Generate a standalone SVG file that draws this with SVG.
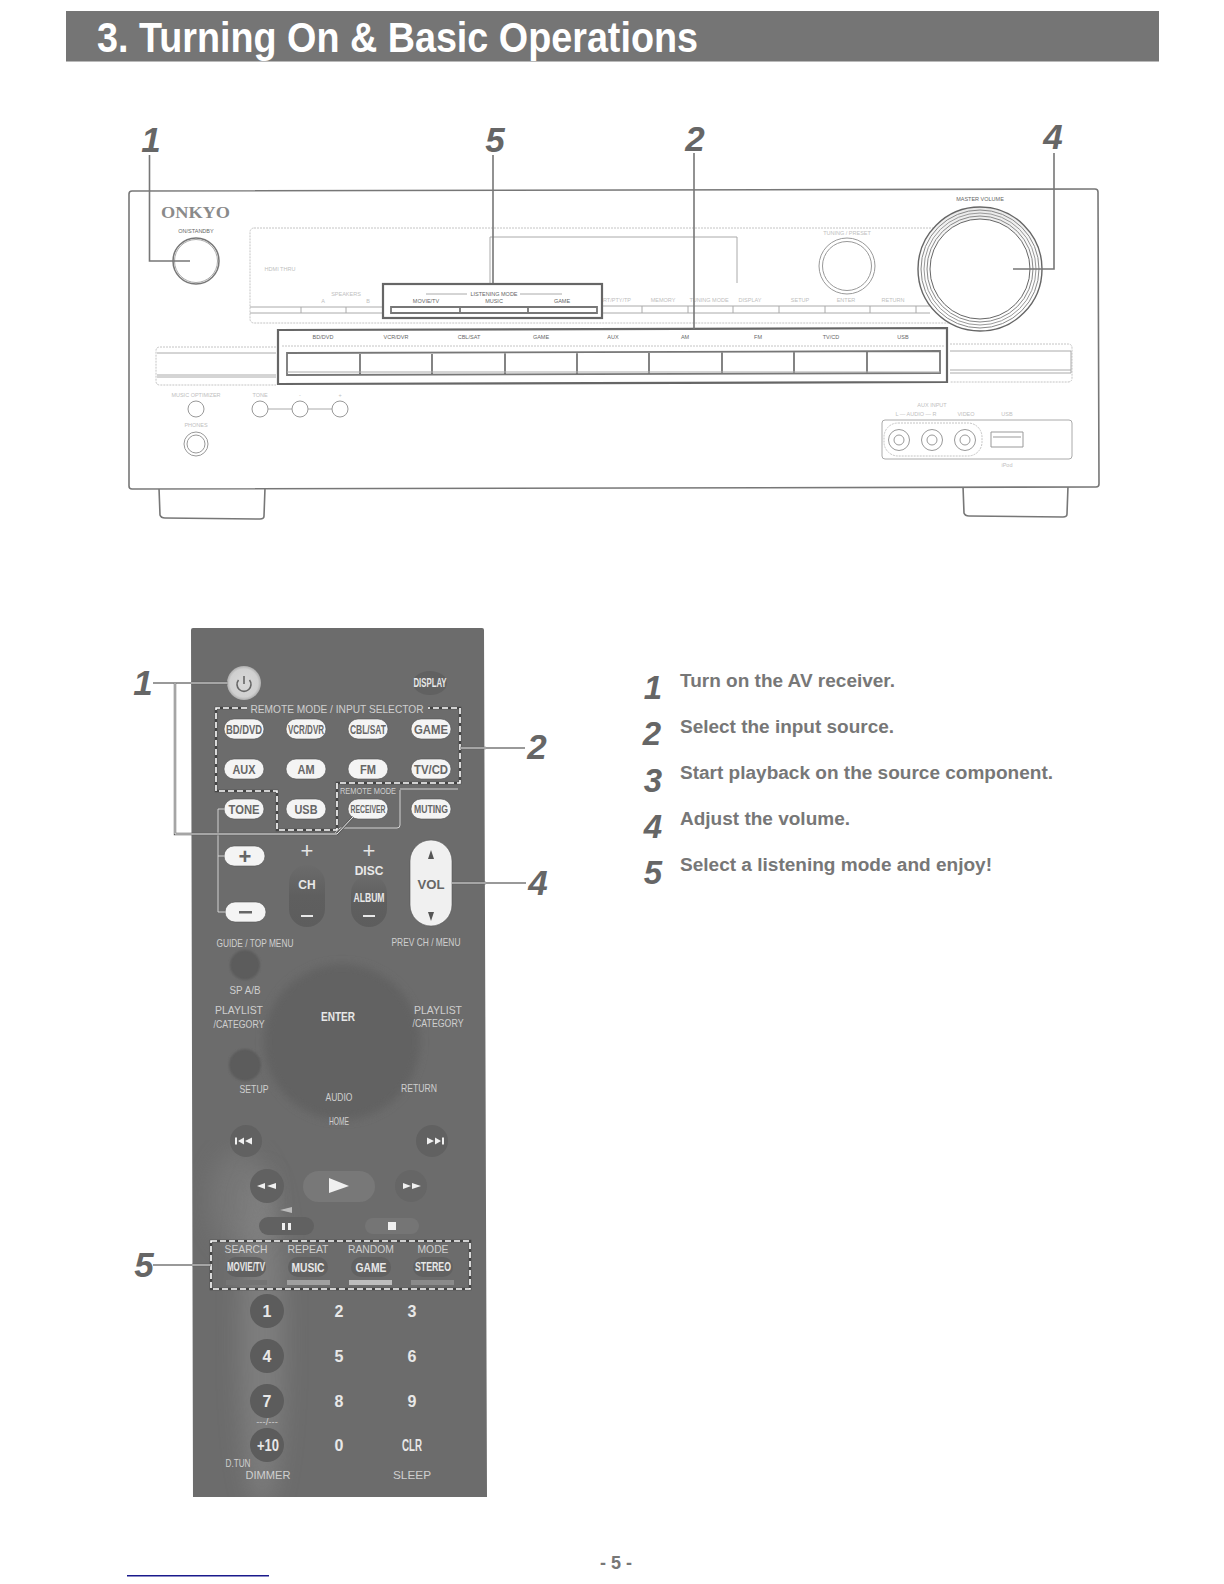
<svg xmlns="http://www.w3.org/2000/svg" width="1224" height="1584" viewBox="0 0 1224 1584">
<style>
text{font-family:"Liberation Sans",Arial,sans-serif}
.serif{font-family:"Liberation Serif","Times New Roman",serif;font-weight:bold;font-size:16px;fill:#8a8a8a;text-anchor:middle}
.title{font-size:42px;font-weight:bold;fill:#fff}
.num{font-weight:bold;font-style:italic;font-size:35px;fill:#666;text-anchor:middle}
.step{font-weight:bold;font-size:18px;fill:#777}
.stepn{font-weight:bold;font-style:italic;font-size:33px;fill:#666;text-anchor:middle}
.ln{fill:none;stroke:#777;stroke-width:1.6}
.body{fill:#fff;stroke:#777;stroke-width:1.6}
.hl{fill:none;stroke:#666;stroke-width:2.2}
.hi{fill:none;stroke:#777;stroke-width:1.8}
.faint{fill:none;stroke:#c4c4c4;stroke-width:1;stroke-dasharray:2 1}
.thin{fill:none;stroke:#aaa;stroke-width:1}
.knob{fill:#fff;stroke:#999;stroke-width:1}
.t5{font-size:5.5px;fill:#666;text-anchor:middle}
.t5f{font-size:5.5px;fill:#c0c0c0;text-anchor:middle}
.pill{fill:#f4f4f4;stroke:#555;stroke-width:.6}
.pt{font-weight:bold;font-size:13px;fill:#666;text-anchor:middle}
.ptn{font-weight:bold;font-size:11px;fill:#666;text-anchor:middle}
.rt{font-size:11.5px;fill:#cfcfcf;text-anchor:middle}
.rs{font-size:9.5px;fill:#cfcfcf;text-anchor:middle}
.rb{font-weight:bold;font-size:12px;fill:#e8e8e8;text-anchor:middle}
.k{font-weight:bold;font-size:16px;fill:#e8e8e8;text-anchor:middle}
.plus{font-size:22px;fill:#e4e4e4;text-anchor:middle}
.plusd{font-weight:bold;font-size:22px;fill:#666;text-anchor:middle}
.dk{fill:#616161}
.dk2{fill:#5c5c5c}
.dash{fill:none;stroke:#fff;stroke-width:1.6;stroke-dasharray:6 3}
.dashu{fill:none;stroke:#444;stroke-width:2.6}
.lo{fill:none;stroke:#777;stroke-width:1.3}
.lu{fill:none;stroke:#5a5a5a;stroke-width:2.4}
.lw{fill:none;stroke:#f0f0f0;stroke-width:1}
.br{fill:none;stroke:#ddd;stroke-width:.9}
.ico{fill:#f0f0f0}
.ico2{fill:#555}
</style>
<defs>
<filter id="soft" x="-20%" y="-20%" width="140%" height="140%"><feGaussianBlur stdDeviation="4"/></filter>
<filter id="glow" x="-100%" y="-10%" width="300%" height="120%"><feGaussianBlur stdDeviation="12"/></filter>
<filter id="b1" x="-20%" y="-20%" width="140%" height="140%"><feGaussianBlur stdDeviation="1"/></filter>
<radialGradient id="pw" cx=".5" cy=".5" r=".55"><stop offset="0" stop-color="#d8d8d8"/><stop offset=".75" stop-color="#d0d0d0"/><stop offset="1" stop-color="#9a9a9a"/></radialGradient>
<linearGradient id="vol" x1="0" y1="0" x2="0" y2="1"><stop offset="0" stop-color="#e8e8e8"/><stop offset=".3" stop-color="#fafafa"/><stop offset="1" stop-color="#fff"/></linearGradient>
<linearGradient id="cfade" x1="0" y1="0" x2="0" y2="1"><stop offset="0" stop-color="#6b6b6b"/><stop offset=".5" stop-color="#5f5f5f"/><stop offset="1" stop-color="#5d5d5d"/></linearGradient>
<clipPath id="rc"><path d="M191 630Q191 628 193 628L482 628Q484 628 484 630L487 1497L193 1497Z"/></clipPath>
</defs>
<rect width="1224" height="1584" fill="#fff"/>

<g id="header">
<rect x="66" y="11" width="1093" height="50.500" fill="#757575"/>
<text class="title" x="97" y="52" textLength="601" lengthAdjust="spacingAndGlyphs">3. Turning On &amp; Basic Operations</text>
</g>

<g id="receiver">
<path class="body" d="M159 488L160 515Q161 518 165 518L260 519Q264 519 264 516L265 488Z"/>
<path class="body" d="M963 486L964 513Q965 516 969 516L1063 517Q1067 517 1067 514L1068 486Z"/>
<path class="body" d="M132 191L1095 189Q1098 189 1098 192L1099 484Q1099 487 1096 487L132 489Q129 489 129 486L129 194Q129 191 132 191Z"/>
<text class="serif" x="195.500" y="218" textLength="69" lengthAdjust="spacingAndGlyphs">ONKYO</text>
<text class="t5" x="196" y="233">ON/STANDBY</text>
<circle cx="196" cy="261" r="23" fill="#fff" stroke="#777" stroke-width="1.5"/>
<circle cx="196" cy="261" r="21.500" fill="none" stroke="#aaa"/>
<rect class="faint" x="250" y="228" width="750" height="95" rx="4"/>
<path d="M490 283V237H737V283" fill="none" stroke="#aaa" stroke-width="1"/>
<text class="t5f" x="280" y="271">HDMI THRU</text>
<text class="t5f" x="346" y="296">SPEAKERS</text>
<text class="t5f" x="323" y="303">A</text>
<text class="t5f" x="368" y="303">B</text>
<path class="thin" d="M250 307H383M602 306H940M250 313H383M602 313H930M301 307V313M346 307V313M642 306V313M688 306V313M733 306V313M779 306V313M825 306V313M870 306V313M916 306V313"/>
<text class="t5f" x="617" y="302">RT/PTY/TP</text>
<text class="t5f" x="663" y="302">MEMORY</text>
<text class="t5f" x="709" y="302">TUNING MODE</text>
<text class="t5f" x="750" y="302">DISPLAY</text>
<text class="t5f" x="800" y="302">SETUP</text>
<text class="t5f" x="846" y="302">ENTER</text>
<text class="t5f" x="893" y="302">RETURN</text>
<text class="t5f" x="847" y="235">TUNING / PRESET</text>
<circle cx="847" cy="266" r="28" class="knob"/>
<circle cx="847" cy="266" r="24.500" class="knob"/>
<path class="faint" d="M276 347H160Q156 347 156 351V381Q156 385 160 385H276"/>
<path class="thin" d="M157 353H276M157 375H276M157 377H276"/>
<path class="faint" d="M950 344H1068Q1072 344 1072 348V378Q1072 382 1068 382H950"/>
<path class="thin" d="M950 351H1071V373H950M950 370H1071"/>
<text class="t5f" x="196" y="397">MUSIC OPTIMIZER</text>
<text class="t5f" x="260" y="397">TONE</text>
<text class="t5f" x="300" y="397">-</text>
<text class="t5f" x="340" y="397">+</text>
<path class="thin" d="M268 409H292M308 409H332"/>
<circle cx="196" cy="409" r="8" class="knob"/>
<circle cx="260" cy="409" r="8" class="knob"/>
<circle cx="300" cy="409" r="8" class="knob"/>
<circle cx="340" cy="409" r="8" class="knob"/>
<text class="t5f" x="196" y="427">PHONES</text>
<circle cx="196" cy="444" r="12" class="knob"/>
<circle cx="196" cy="444" r="9" class="knob"/>
</g>

<g id="master-volume">
<text class="t5" x="980" y="201">MASTER VOLUME</text>
<circle cx="980" cy="269" r="62" fill="url(#vol)" stroke="#666" stroke-width="1.4"/>
<circle cx="980" cy="269" r="59" fill="none" stroke="#888"/>
<circle cx="980" cy="269" r="56" fill="none" stroke="#999"/>
<circle cx="980" cy="269" r="53" fill="none" stroke="#888"/>
<circle cx="980" cy="269" r="50" fill="#fff" stroke="#666"/>
</g>

<g id="listening-mode-panel">
<rect class="hl" x="383" y="284" width="219" height="34"/>
<path class="thin" d="M426 294H467M520 294H562"/>
<text class="t5" x="494" y="296">LISTENING MODE</text>
<text class="t5" x="426" y="303">MOVIE/TV</text>
<text class="t5" x="494" y="303">MUSIC</text>
<text class="t5" x="562" y="303">GAME</text>
<path class="hi" d="M391 307H597V313H391ZM460 307V313M528 307V313"/>
</g>

<g id="input-selector-panel">
<path class="hl" d="M278 330L947 328V382L278 384Z"/>
<path class="faint" d="M282 346H944"/>
<text class="t5" x="323" y="339">BD/DVD</text>
<text class="t5" x="396" y="339">VCR/DVR</text>
<text class="t5" x="469" y="339">CBL/SAT</text>
<text class="t5" x="541" y="339">GAME</text>
<text class="t5" x="613" y="339">AUX</text>
<text class="t5" x="685" y="339">AM</text>
<text class="t5" x="758" y="339">FM</text>
<text class="t5" x="831" y="339">TV/CD</text>
<text class="t5" x="903" y="339">USB</text>
<path class="hi" d="M287 353L940 351V373L287 375ZM360 353V375M432 353V375M505 353V375M577 353V375M649 352V374M722 352V374M794 352V374M867 352V374"/>
<path class="thin" d="M287 372H940"/>
</g>

<g id="aux-panel">
<text class="t5f" x="932" y="407">AUX INPUT</text>
<text class="t5f" x="916" y="416">L — AUDIO — R</text>
<text class="t5f" x="966" y="416">VIDEO</text>
<text class="t5f" x="1007" y="416">USB</text>
<text class="t5f" x="1007" y="467">iPod</text>
<path class="thin" d="M885 420H1069Q1072 420 1072 423V456Q1072 459 1069 459H885Q882 459 882 456V423Q882 420 885 420Z"/>
<rect class="faint" x="884" y="423" width="98" height="33" rx="14"/>
<circle cx="899" cy="440" r="10.500" class="knob"/><circle cx="899" cy="440" r="5" class="knob"/>
<circle cx="932" cy="440" r="10.500" class="knob"/><circle cx="932" cy="440" r="5" class="knob"/>
<circle cx="965" cy="440" r="10.500" class="knob"/><circle cx="965" cy="440" r="5" class="knob"/>
<path d="M991 432H1023V447H991ZM993 437H1021" fill="none" stroke="#999"/>
</g>

<g id="remote">
<path d="M191 630Q191 628 193 628L482 628Q484 628 484 630L487 1497L193 1497Z" fill="#6c6c6c"/>
<g clip-path="url(#rc)">
<ellipse cx="262" cy="1340" rx="22" ry="170" fill="#9a9a9a" opacity=".4" filter="url(#glow)"/>
<ellipse cx="240" cy="1200" rx="30" ry="50" fill="#8c8c8c" opacity=".35" filter="url(#glow)"/>
<circle cx="342" cy="1042" r="78" fill="#626262" filter="url(#soft)"/>
<circle cx="245" cy="965" r="15" class="dk2" filter="url(#b1)"/>
<circle cx="245" cy="1065" r="16" class="dk2" filter="url(#b1)"/>
</g>
</g>

<g id="btn-power"><circle cx="244" cy="683" r="17" fill="url(#pw)"/><path d="M238.500 680A7 7 0 1 0 249.500 680M244 676V684" fill="none" stroke="#666" stroke-width="1.600"/></g>
<g id="btn-display"><ellipse cx="430" cy="683" rx="17" ry="12" class="dk"/><text class="rb" x="430" y="687" textLength="33" lengthAdjust="spacingAndGlyphs">DISPLAY</text></g>
<g id="label-remote-mode"><text class="rt" x="337" y="713" textLength="173" lengthAdjust="spacingAndGlyphs">REMOTE MODE / INPUT SELECTOR</text></g>

<g id="btn-bd"><rect class="pill" x="224" y="719" width="40" height="20" rx="10"/><text class="pt" x="244" y="734" textLength="36" lengthAdjust="spacingAndGlyphs">BD/DVD</text></g>
<g id="btn-vcr"><rect class="pill" x="286" y="719" width="40" height="20" rx="10"/><text class="pt" x="306" y="734" textLength="36" lengthAdjust="spacingAndGlyphs">VCR/DVR</text></g>
<g id="btn-cbl"><rect class="pill" x="348" y="719" width="40" height="20" rx="10"/><text class="pt" x="368" y="734" textLength="36" lengthAdjust="spacingAndGlyphs">CBL/SAT</text></g>
<g id="btn-game"><rect class="pill" x="411" y="719" width="40" height="20" rx="10"/><text class="pt" x="431" y="734" textLength="34" lengthAdjust="spacingAndGlyphs">GAME</text></g>
<g id="btn-aux"><rect class="pill" x="224" y="759" width="40" height="20" rx="10"/><text class="pt" x="244" y="774" textLength="23" lengthAdjust="spacingAndGlyphs">AUX</text></g>
<g id="btn-am"><rect class="pill" x="286" y="759" width="40" height="20" rx="10"/><text class="pt" x="306" y="774" textLength="17" lengthAdjust="spacingAndGlyphs">AM</text></g>
<g id="btn-fm"><rect class="pill" x="348" y="759" width="40" height="20" rx="10"/><text class="pt" x="368" y="774" textLength="16" lengthAdjust="spacingAndGlyphs">FM</text></g>
<g id="btn-tvcd"><rect class="pill" x="411" y="759" width="40" height="20" rx="10"/><text class="pt" x="431" y="774" textLength="34" lengthAdjust="spacingAndGlyphs">TV/CD</text></g>
<g id="btn-tone"><rect class="pill" x="224" y="799" width="40" height="20" rx="10"/><text class="pt" x="244" y="814" textLength="31" lengthAdjust="spacingAndGlyphs">TONE</text></g>
<g id="btn-usb"><rect class="pill" x="286" y="799" width="40" height="20" rx="10"/><text class="pt" x="306" y="814" textLength="23" lengthAdjust="spacingAndGlyphs">USB</text></g>
<g id="btn-receiver"><rect class="pill" x="348" y="799" width="40" height="20" rx="10"/><text class="ptn" x="368" y="813" textLength="35" lengthAdjust="spacingAndGlyphs">RECEIVER</text></g>
<g id="btn-muting"><rect class="pill" x="411" y="799" width="40" height="20" rx="10"/><text class="ptn" x="431" y="813" textLength="34" lengthAdjust="spacingAndGlyphs">MUTING</text></g>
<g id="label-remote-mode-2"><text class="rs" x="368" y="794" textLength="56" lengthAdjust="spacingAndGlyphs">REMOTE MODE</text></g>
<g id="btn-plus"><rect class="pill" x="224" y="846" width="41" height="20" rx="10"/><text class="plusd" x="245" y="864">+</text></g>
<g id="btn-minus"><rect class="pill" x="225" y="902" width="41" height="20" rx="10"/><rect x="239" y="911" width="13" height="2.500" fill="#666"/></g>

<g id="btn-ch"><rect x="289" y="865" width="36" height="62" rx="18" fill="url(#cfade)"/><text class="plus" x="307" y="858">+</text><text class="rb" x="307" y="889">CH</text><rect x="301" y="915" width="12" height="2" fill="#e8e8e8"/></g>
<g id="btn-disc"><rect x="351" y="875" width="36" height="52" rx="18" fill="url(#cfade)"/><text class="plus" x="369" y="858">+</text><text class="rb" x="369" y="875">DISC</text><text class="rb" x="369" y="902" textLength="31" lengthAdjust="spacingAndGlyphs">ALBUM</text><rect x="363" y="915" width="12" height="2" fill="#e8e8e8"/></g>
<g id="btn-vol"><rect x="410" y="840" width="42" height="86" rx="21" fill="#f0f0f0" stroke="#555" stroke-width=".6"/><text class="pt" x="431" y="889" textLength="27" lengthAdjust="spacingAndGlyphs">VOL</text><polygon class="ico2" points="431,850 434,859 428,859"/><polygon class="ico2" points="431,921 434,912 428,912"/></g>
<g id="label-guide"><text class="rt" x="255" y="947" textLength="77" lengthAdjust="spacingAndGlyphs">GUIDE / TOP MENU</text></g>
<g id="label-prev"><text class="rt" x="426" y="946" textLength="69" lengthAdjust="spacingAndGlyphs">PREV CH / MENU</text></g>
<g id="label-spab"><text class="rt" x="245" y="994" textLength="31" lengthAdjust="spacingAndGlyphs">SP A/B</text></g>
<g id="label-playlist-l"><text class="rt" x="239" y="1014" textLength="48" lengthAdjust="spacingAndGlyphs">PLAYLIST</text><text class="rt" x="239" y="1028" textLength="51" lengthAdjust="spacingAndGlyphs">/CATEGORY</text></g>
<g id="btn-enter"><text class="rb" x="338" y="1021" textLength="34" lengthAdjust="spacingAndGlyphs">ENTER</text></g>
<g id="label-playlist-r"><text class="rt" x="438" y="1014" textLength="48" lengthAdjust="spacingAndGlyphs">PLAYLIST</text><text class="rt" x="438" y="1027" textLength="51" lengthAdjust="spacingAndGlyphs">/CATEGORY</text></g>
<g id="label-setup"><text class="rt" x="254" y="1093" textLength="29" lengthAdjust="spacingAndGlyphs">SETUP</text></g>
<g id="label-audio"><text class="rt" x="339" y="1101" textLength="27" lengthAdjust="spacingAndGlyphs">AUDIO</text></g>
<g id="label-return"><text class="rt" x="419" y="1092" textLength="36" lengthAdjust="spacingAndGlyphs">RETURN</text></g>
<g id="label-home"><text class="rt" x="339" y="1125" textLength="20" lengthAdjust="spacingAndGlyphs">HOME</text></g>

<g id="btn-prev"><circle cx="246" cy="1141" r="16" class="dk"/><path class="ico" d="M235 1137.500H237V1144.500H235ZM244 1137.500V1144.500L238 1141ZM252 1137.500V1144.500L245 1141Z"/></g>
<g id="btn-next"><circle cx="432" cy="1141" r="16" class="dk"/><path class="ico" d="M442 1137.500H444V1144.500H442ZM435 1137.500V1144.500L441 1141ZM427 1137.500V1144.500L434 1141Z"/></g>
<g id="btn-rew"><circle cx="267" cy="1186" r="17" class="dk"/><path class="ico" d="M265 1183V1189L257 1186ZM276 1183V1189L267 1186Z"/></g>
<g id="btn-play"><rect x="303" y="1171" width="72" height="31" rx="15.500" fill="#787878"/><polygon class="ico" points="329,1178 349,1186 329,1193"/></g>
<g id="btn-ff"><circle cx="411" cy="1186" r="16" fill="#666"/><path class="ico" d="M403 1183V1189L411 1186ZM412 1183V1189L421 1186Z"/></g>
<g id="btn-pause"><polygon points="280,1210 292,1207 292,1213" fill="#bbb"/><rect x="259" y="1217" width="55" height="18" rx="9" class="dk"/><path class="ico" d="M282 1223H285V1230H282ZM288 1223H291V1230H288Z"/></g>
<g id="btn-stop"><rect x="365" y="1218" width="54" height="16" rx="8" fill="#757575"/><rect x="388" y="1222" width="8" height="8" class="ico"/></g>

<g id="labels-search"><text class="rt" x="246" y="1253" textLength="43" lengthAdjust="spacingAndGlyphs">SEARCH</text><text class="rt" x="308" y="1253" textLength="41" lengthAdjust="spacingAndGlyphs">REPEAT</text><text class="rt" x="371" y="1253" textLength="46" lengthAdjust="spacingAndGlyphs">RANDOM</text><text class="rt" x="433" y="1253" textLength="31" lengthAdjust="spacingAndGlyphs">MODE</text></g>
<g id="btn-movie"><rect x="226" y="1257" width="40" height="20" rx="10" class="dk"/><text class="rb" x="246" y="1271" textLength="38" lengthAdjust="spacingAndGlyphs">MOVIE/TV</text></g>
<g id="btn-music"><rect x="288" y="1257" width="40" height="20" rx="10" class="dk"/><text class="rb" x="308" y="1272" textLength="33" lengthAdjust="spacingAndGlyphs">MUSIC</text></g>
<g id="btn-game2"><rect x="351" y="1257" width="40" height="20" rx="10" class="dk"/><text class="rb" x="371" y="1272" textLength="31" lengthAdjust="spacingAndGlyphs">GAME</text></g>
<g id="btn-stereo"><rect x="413" y="1257" width="40" height="20" rx="10" class="dk"/><text class="rb" x="433" y="1271" textLength="36" lengthAdjust="spacingAndGlyphs">STEREO</text></g>
<g id="indicators"><rect x="226" y="1280" width="41" height="5" fill="#747474"/><rect x="287" y="1280" width="43" height="5" fill="#a0a0a0"/><rect x="349" y="1280" width="43" height="5" fill="#bdbdbd"/><rect x="411" y="1280" width="43" height="5" fill="#8a8a8a"/></g>

<g id="keypad">
<circle cx="267" cy="1311" r="17" class="dk2"/><circle cx="267" cy="1356" r="17" class="dk2"/><circle cx="267" cy="1401" r="17" class="dk2"/><circle cx="267" cy="1445" r="17" class="dk2"/>
<text class="k" x="267" y="1317">1</text><text class="k" x="339" y="1317">2</text><text class="k" x="412" y="1317">3</text>
<text class="k" x="267" y="1362">4</text><text class="k" x="339" y="1362">5</text><text class="k" x="412" y="1362">6</text>
<text class="k" x="267" y="1407">7</text><text class="k" x="339" y="1407">8</text><text class="k" x="412" y="1407">9</text>
<text class="rs" x="267" y="1425">---/---</text>
<text class="k" x="268" y="1451" textLength="22" lengthAdjust="spacingAndGlyphs">+10</text><text class="k" x="339" y="1451">0</text><text class="k" x="412" y="1451" textLength="20" lengthAdjust="spacingAndGlyphs">CLR</text>
<text class="rt" x="238" y="1467" textLength="25" lengthAdjust="spacingAndGlyphs">D.TUN</text>
<text class="rt" x="268" y="1479" textLength="45" lengthAdjust="spacingAndGlyphs">DIMMER</text>
<text class="rt" x="412" y="1479" textLength="38" lengthAdjust="spacingAndGlyphs">SLEEP</text>
</g>

<g id="connectors">
<path class="ln" d="M149.500 155V261H190"/>
<path class="ln" d="M493 155V283"/>
<path class="ln" d="M694 153V329"/>
<path class="ln" d="M1054 153V269H1013"/>
<path class="br" d="M224 809H218V912H225M218 856H224"/>
<path class="br" d="M400 790V825Q400 828 397 828H340L334 834M400 789H458"/>
<path class="dashu" d="M247 708H216V791H277V830H337V783H460V708H428"/>
<path class="dash" d="M247 708H216V791H277V830H337V783H460V708H428"/>
<path class="dashu" d="M211 1241H470V1289H211Z"/>
<path class="dash" d="M211 1241H470V1289H211Z"/>
<path class="lo" d="M153 683H191"/><path class="lu" d="M191 683H228M175 683V834H337L353 817"/><path class="lw" d="M191 683H228M175 683V834H337L353 817"/>
<path class="lo" d="M486 748H525"/><path class="lu" d="M460 748H486"/><path class="lw" d="M460 748H486"/>
<path class="lo" d="M486 883H526"/><path class="lu" d="M452 883H486"/><path class="lw" d="M452 883H486"/>
<path class="lo" d="M153 1265H192"/><path class="lu" d="M192 1265H211"/><path class="lw" d="M192 1265H211"/>
</g>

<g id="callouts">
<text class="num" x="151" y="152">1</text>
<text class="num" x="495" y="152">5</text>
<text class="num" x="695" y="151">2</text>
<text class="num" x="1053" y="149">4</text>
<text class="num" x="143" y="695">1</text>
<text class="num" x="537" y="759">2</text>
<text class="num" x="538" y="895">4</text>
<text class="num" x="144" y="1277">5</text>
</g>

<g id="steps">
<text class="stepn" x="653" y="699">1</text><text class="step" x="680" y="687" textLength="215" lengthAdjust="spacingAndGlyphs">Turn on the AV receiver.</text>
<text class="stepn" x="652" y="745">2</text><text class="step" x="680" y="733" textLength="214" lengthAdjust="spacingAndGlyphs">Select the input source.</text>
<text class="stepn" x="653" y="792">3</text><text class="step" x="680" y="779" textLength="373" lengthAdjust="spacingAndGlyphs">Start playback on the source component.</text>
<text class="stepn" x="653" y="838">4</text><text class="step" x="680" y="825" textLength="170" lengthAdjust="spacingAndGlyphs">Adjust the volume.</text>
<text class="stepn" x="653" y="884">5</text><text class="step" x="680" y="871" textLength="312" lengthAdjust="spacingAndGlyphs">Select a listening mode and enjoy!</text>
</g>

<g id="footer">
<text x="616" y="1569" font-size="18" font-weight="bold" fill="#777" text-anchor="middle">- 5 -</text>
<rect x="127" y="1575" width="142" height="1.500" fill="#1a1a8c"/>
</g>
</svg>
